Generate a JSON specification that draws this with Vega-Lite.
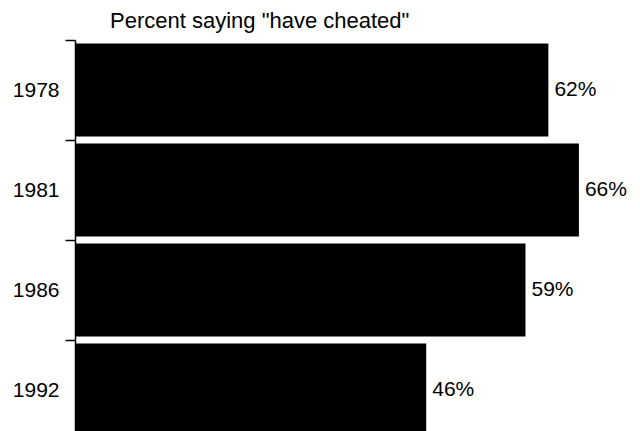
{
  "$schema": "https://vega.github.io/schema/vega-lite/v6.json",
  "width": 565,
  "height": 391,
  "autosize": "none",
  "padding": {"left": 75, "top": 40, "right": 0, "bottom": 0},
  "background": "white",
  "title": {
    "text": "Percent saying \"have cheated\"",
    "anchor": "start",
    "frame": "group",
    "dx": 35,
    "dy": 8,
    "offset": 4,
    "fontSize": 22,
    "font": "Liberation Sans",
    "fontWeight": "normal",
    "color": "black"
  },
  "data": {
    "values": [
      {"year": "1978", "pct": 62, "label": "62%"},
      {"year": "1981", "pct": 66, "label": "66%"},
      {"year": "1986", "pct": 59, "label": "59%"},
      {"year": "1992", "pct": 46, "label": "46%"}
    ]
  },
  "encoding": {
    "y": {
      "field": "year",
      "type": "ordinal",
      "sort": null,
      "scale": {"range": [0, 400], "paddingInner": 0, "paddingOuter": 0},
      "axis": {
        "title": null,
        "labelFont": "Liberation Sans",
        "labelFontSize": 21,
        "labelColor": "black",
        "labelAngle": 0,
        "labelPadding": 6,
        "tickSize": 10,
        "tickWidth": 1.5,
        "tickColor": "black",
        "tickBand": "extent",
        "domainColor": "black",
        "domainWidth": 1.5
      }
    },
    "x": {
      "field": "pct",
      "type": "quantitative",
      "scale": {"domain": [0, 74], "nice": false},
      "axis": null
    }
  },
  "layer": [
    {"mark": {"type": "bar", "color": "black", "height": {"band": 0.93}}},
    {
      "mark": {"type": "text", "align": "left", "baseline": "middle", "dx": 6, "fontSize": 21, "font": "Liberation Sans", "color": "black"},
      "encoding": {"text": {"field": "label"}}
    }
  ],
  "config": {"view": {"stroke": null}}
}
